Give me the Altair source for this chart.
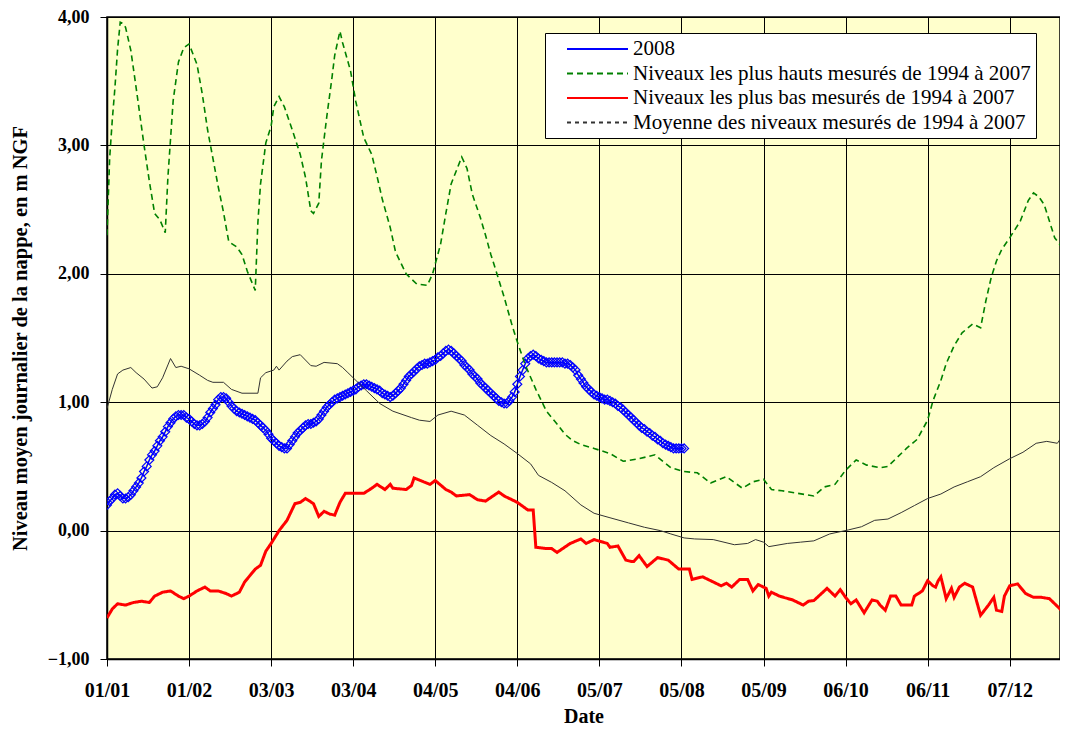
import json
import altair as alt
import pandas as pd

SERIES = [
    "2008",
    "Niveaux les plus hauts mesurés de 1994 à 2007",
    "Niveaux les plus bas mesurés de 1994 à 2007",
    "Moyenne des niveaux mesurés de 1994 à 2007",
]
COLORS = ["#0000FF", "#008000", "#FF0000", "#333333"]
DASHES = [[1, 0], [6, 4], [1, 0], [4, 4]]

TICK_DAYS = [0, 31, 62, 93, 124, 155, 186, 217, 248, 279, 310, 341]
TICK_LABELS = ["01/01", "01/02", "03/03", "03/04", "04/05", "04/06",
               "05/07", "05/08", "05/09", "06/10", "06/11", "07/12"]
Y_TICKS = [-1, 0, 1, 2, 3, 4]

# 2008 daily values (day 0 = 01/01)
V2008 = [
    0.20, 0.23, 0.25, 0.28, 0.29, 0.27, 0.25, 0.25, 0.26, 0.28,
    0.31, 0.34, 0.37, 0.41, 0.46, 0.50, 0.55, 0.59, 0.62, 0.66,
    0.70, 0.73, 0.77, 0.81, 0.84, 0.87, 0.89, 0.90, 0.90, 0.90,
    0.88, 0.87, 0.85, 0.83, 0.82, 0.82, 0.83, 0.85, 0.88, 0.92,
    0.95, 0.98, 1.02, 1.04, 1.04, 1.03, 1.00, 0.97, 0.95, 0.93,
    0.92, 0.91, 0.90, 0.89, 0.88, 0.87, 0.86, 0.84, 0.82, 0.80,
    0.78, 0.75, 0.72, 0.70, 0.68, 0.66, 0.65, 0.64, 0.64, 0.67,
    0.70, 0.73, 0.76, 0.78, 0.80, 0.82, 0.83, 0.83, 0.84, 0.85,
    0.87, 0.90, 0.93, 0.96, 0.98, 1.00, 1.02, 1.03, 1.04, 1.05,
    1.06, 1.07, 1.08, 1.09, 1.10, 1.12, 1.13, 1.14, 1.14, 1.13,
    1.12, 1.11, 1.10, 1.09, 1.07, 1.06, 1.05, 1.04, 1.05, 1.07,
    1.09, 1.11, 1.14, 1.17, 1.20, 1.22, 1.24, 1.26, 1.28, 1.29,
    1.30, 1.30, 1.31, 1.32, 1.33, 1.35, 1.36, 1.38, 1.40, 1.41,
    1.40, 1.38, 1.36, 1.34, 1.32, 1.29, 1.27, 1.25, 1.22, 1.20,
    1.18, 1.15, 1.13, 1.11, 1.09, 1.07, 1.05, 1.03, 1.01, 1.00,
    0.99, 0.99, 1.01, 1.04, 1.08, 1.14, 1.20, 1.25, 1.30, 1.34,
    1.36, 1.37, 1.36, 1.34, 1.33, 1.32, 1.31, 1.31, 1.31, 1.31,
    1.31, 1.31, 1.31, 1.30, 1.30, 1.29, 1.27, 1.25, 1.21, 1.18,
    1.15, 1.12, 1.10, 1.08, 1.06, 1.05, 1.04, 1.03, 1.02, 1.02,
    1.01, 1.00, 0.99, 0.97, 0.96, 0.94, 0.92, 0.90, 0.88, 0.86,
    0.84, 0.82, 0.80, 0.79, 0.77, 0.76, 0.74, 0.73, 0.71, 0.70,
    0.68, 0.67, 0.66, 0.65, 0.64, 0.64, 0.64, 0.64, 0.64,
]
DAYS_2008 = list(range(len(V2008)))

HAUTS_DAYS = [0, 1, 2, 3, 4, 5, 6, 7, 9, 11, 13, 14, 16, 18, 20, 22, 23, 24, 25, 27,
              29, 31, 34, 36, 38, 40, 42, 44, 46, 49, 51, 53, 56, 57, 58, 60, 62, 63, 65, 67,
              70, 73, 75, 77, 78, 80, 81, 83, 85, 86, 88, 89, 92, 94, 97, 100, 102, 104, 107, 109,
              113, 117, 121, 123, 126, 128, 130, 134, 136, 138, 141, 143, 145, 147, 150, 153, 155, 158, 162, 166,
              170, 173, 176, 179, 184, 190, 195, 201, 207, 213, 218, 223, 228, 234, 240, 244, 248, 251, 255, 261,
              267, 271, 275, 279, 283, 287, 292, 295, 298, 302, 306, 310, 312, 315, 317, 320, 323, 327, 330, 332,
              334, 336, 338, 341, 345, 348, 350, 352, 354, 358, 361, 363]
HAUTS_VALUES = [2.30, 2.90, 3.20, 3.45, 3.75, 3.96, 3.95, 3.92, 3.74, 3.45, 3.15, 3.00, 2.72, 2.47, 2.42, 2.32, 2.75, 3.05, 3.35, 3.65,
                3.76, 3.79, 3.63, 3.40, 3.12, 2.90, 2.68, 2.48, 2.25, 2.21, 2.15, 2.02, 1.87, 2.40, 2.70, 3.02, 3.15, 3.30, 3.38, 3.30,
                3.12, 2.93, 2.75, 2.49, 2.47, 2.55, 2.88, 3.22, 3.53, 3.70, 3.89, 3.80, 3.58, 3.34, 3.06, 2.93, 2.76, 2.58, 2.36, 2.17,
                2.00, 1.92, 1.91, 2.00, 2.23, 2.47, 2.70, 2.91, 2.82, 2.62, 2.44, 2.30, 2.15, 2.02, 1.82, 1.60, 1.47, 1.29, 1.10, 0.93,
                0.83, 0.75, 0.70, 0.67, 0.64, 0.60, 0.54, 0.56, 0.59, 0.49, 0.46, 0.45, 0.37, 0.42, 0.33, 0.38, 0.40, 0.32, 0.31, 0.29,
                0.27, 0.34, 0.36, 0.47, 0.55, 0.51, 0.49, 0.50, 0.56, 0.64, 0.71, 0.86, 1.01, 1.17, 1.30, 1.44, 1.54, 1.61, 1.58, 1.79,
                1.97, 2.10, 2.19, 2.28, 2.41, 2.57, 2.63, 2.60, 2.54, 2.28, 2.20, 2.12]

BAS_DAYS = [0, 2, 4, 7, 10, 13, 16, 18, 21, 24, 27, 29, 31, 34, 37, 39, 42, 45, 47, 50,
            52, 54, 56, 58, 60, 62, 65, 68, 71, 73, 75, 78, 80, 82, 84, 86, 88, 90, 97, 100,
            102, 105, 107, 108, 113, 115, 116, 122, 124, 128, 130, 132, 137, 140, 143, 148, 150, 155, 159, 161,
            162, 166, 168, 170, 175, 179, 181, 184, 189, 190, 193, 196, 198, 199, 201, 204, 208, 212, 216, 220,
            221, 225, 229, 232, 234, 236, 239, 242, 244, 246, 249, 250, 251, 254, 259, 263, 265, 267, 272, 275,
            277, 279, 281, 283, 286, 289, 291, 292, 294, 296, 298, 300, 304, 305, 308, 310, 312, 313, 314, 315,
            317, 319, 320, 322, 324, 327, 330, 333, 335, 336, 338, 339, 341, 344, 347, 350, 353, 356, 359, 362, 363]
BAS_VALUES = [-0.68, -0.61, -0.57, -0.58, -0.56, -0.55, -0.56, -0.51, -0.48, -0.47, -0.51, -0.53, -0.51, -0.47, -0.44, -0.47, -0.47, -0.49, -0.51, -0.48,
              -0.40, -0.35, -0.30, -0.27, -0.16, -0.10, 0.00, 0.08, 0.21, 0.22, 0.25, 0.21, 0.11, 0.15, 0.13, 0.12, 0.22, 0.29, 0.29, 0.33,
              0.36, 0.32, 0.36, 0.33, 0.32, 0.35, 0.41, 0.36, 0.39, 0.32, 0.30, 0.27, 0.28, 0.24, 0.23, 0.30, 0.27, 0.22, 0.16, 0.16,
              -0.13, -0.14, -0.14, -0.17, -0.10, -0.065, -0.10, -0.07, -0.10, -0.13, -0.12, -0.23, -0.24, -0.24, -0.195, -0.28, -0.21, -0.23, -0.30, -0.30,
              -0.38, -0.36, -0.40, -0.43, -0.41, -0.44, -0.38, -0.38, -0.47, -0.42, -0.45, -0.51, -0.48, -0.51, -0.54, -0.58, -0.55, -0.545, -0.45, -0.51,
              -0.46, -0.52, -0.57, -0.54, -0.64, -0.54, -0.55, -0.58, -0.62, -0.51, -0.51, -0.58, -0.58, -0.51, -0.47, -0.39, -0.43, -0.44, -0.39, -0.36,
              -0.53, -0.45, -0.52, -0.44, -0.41, -0.44, -0.66, -0.58, -0.52, -0.62, -0.63, -0.51, -0.43, -0.415, -0.49, -0.52, -0.52, -0.53, -0.59, -0.65, -0.60]

MOY_DAYS = [0, 2, 4, 6, 9, 11, 14, 17, 19, 21, 23, 24, 26, 28, 31, 35, 38, 40, 44, 47,
            51, 57, 58, 60, 63, 64, 65, 68, 70, 73, 77, 79, 82, 87, 89, 91, 93, 98, 103, 108,
            115, 118, 122, 125, 130, 135, 140, 145, 150, 155, 160, 163, 168, 173, 179, 184, 190, 197, 203, 209,
            213, 218, 222, 229, 237, 242, 245, 248, 250, 257, 262, 267, 273, 280, 285, 290, 295, 300, 305, 310,
            315, 320, 325, 330, 335, 341, 346, 351, 355, 359, 361, 363]
MOY_VALUES = [0.95, 1.10, 1.22, 1.25, 1.27, 1.23, 1.18, 1.11, 1.12, 1.19, 1.29, 1.34, 1.27, 1.28, 1.26, 1.21, 1.17, 1.155, 1.155, 1.10,
              1.07, 1.07, 1.19, 1.23, 1.25, 1.28, 1.25, 1.32, 1.355, 1.37, 1.285, 1.28, 1.31, 1.30, 1.27, 1.23, 1.19, 1.09, 0.99, 0.93,
              0.88, 0.86, 0.85, 0.90, 0.93, 0.90, 0.82, 0.74, 0.675, 0.60, 0.52, 0.43, 0.375, 0.31, 0.20, 0.135, 0.10, 0.06, 0.026, 0.00,
              -0.026, -0.057, -0.065, -0.07, -0.11, -0.10, -0.07, -0.09, -0.125, -0.10, -0.09, -0.08, -0.026, 0.005, 0.03, 0.08, 0.09, 0.14, 0.195, 0.25,
              0.285, 0.34, 0.38, 0.42, 0.49, 0.56, 0.61, 0.68, 0.695, 0.68, 0.74, 0.80]

FONT = "Liberation Serif"


def frame(days, values, name):
    return pd.DataFrame({"jour": days, "niveau": values, "serie": [name] * len(days)})


df_2008 = frame(DAYS_2008, V2008, SERIES[0])
df_hauts = frame(HAUTS_DAYS, HAUTS_VALUES, SERIES[1])
df_bas = frame(BAS_DAYS, BAS_VALUES, SERIES[2])
df_moy = frame(MOY_DAYS, MOY_VALUES, SERIES[3])

labels_js = json.dumps(TICK_LABELS)

x_enc = alt.X(
    "jour:Q",
    scale=alt.Scale(domain=[0, 360], nice=False, zero=False),
    axis=alt.Axis(
        values=TICK_DAYS,
        labelExpr=f"{labels_js}[round(datum.value / 31)]",
        labelFlush=False,
        labelOverlap=False,
        title="Date",
        titleY=57,
        titleBaseline="middle",
        titleFontSize=20,
        labelPadding=14,
        labelBaseline="top",
        labelFontSize=20,
        tickSize=7,
    ),
)
y_enc = alt.Y(
    "niveau:Q",
    scale=alt.Scale(domain=[-1, 4], nice=False, zero=False),
    axis=alt.Axis(
        values=Y_TICKS,
        labelExpr="replace(format(datum.value, '.2f'), '.', ',')",
        labelFlush=False,
        labelOverlap=False,
        labelFontSize=18,
        title="Niveau moyen journalier de la nappe, en m NGF",
        titleX=-87,
        titleY=321,
        titleAngle=270,
        titleAlign="center",
        titleBaseline="middle",
        titleFontSize=20.5,
        labelPadding=11,
        tickSize=7,
    ),
)

legend = alt.Legend(
    title=None,
    orient="none",
    legendX=438,
    legendY=16,
    direction="vertical",
    fillColor="white",
    strokeColor="black",
    padding=5,
    cornerRadius=0,
    symbolType="M0.6,0L6.7,0",
    symbolSize=400,
    symbolStrokeWidth=2,
    labelFont=FONT,
    labelFontSize=21,
    labelFontWeight="normal",
    labelColor="black",
    labelOffset=61,
    labelLimit=0,
    rowPadding=3.5,
)

color_enc = alt.Color("serie:N", scale=alt.Scale(domain=SERIES, range=COLORS), legend=legend)
dash_enc = alt.StrokeDash("serie:N", scale=alt.Scale(domain=SERIES, range=DASHES), legend=legend)

line_2008 = alt.Chart(df_2008).mark_line(strokeWidth=1.5, clip=True).encode(
    x=x_enc, y=y_enc, color=color_enc, strokeDash=dash_enc
)
points_2008 = alt.Chart(df_2008).mark_point(
    shape="diamond", size=80, filled=False, color="#0000FF", strokeWidth=1.2, opacity=1, clip=True
).encode(x=x_enc, y=y_enc)
line_hauts = alt.Chart(df_hauts).mark_line(strokeWidth=1.6, clip=True).encode(
    x=x_enc, y=y_enc, color=color_enc, strokeDash=dash_enc
)
line_bas = alt.Chart(df_bas).mark_line(strokeWidth=3, clip=True).encode(
    x=x_enc, y=y_enc, color=color_enc, strokeDash=dash_enc
)
line_moy = alt.Chart(df_moy).mark_line(strokeWidth=1, clip=True).encode(
    x=x_enc, y=y_enc, color=color_enc
)

chart = (
    alt.layer(line_2008, points_2008, line_hauts, line_bas, line_moy)
    .properties(
        width=953,
        height=642,
        autosize=alt.AutoSizeParams(type="none"),
        padding={"left": 99, "top": 9, "right": 0, "bottom": 68},
        background="white",
    )
    .configure_view(fill="#FFFFCC", stroke="#000000", strokeWidth=1.5)
    .configure_axis(
        domainColor="#000000",
        domainWidth=1.5,
        tickColor="#000000",
        tickWidth=1,
        grid=True,
        gridColor="#000000",
        gridWidth=1,
        gridOpacity=1,
        labelFont=FONT,
        labelFontWeight="bold",
        labelColor="#000000",
        titleFont=FONT,
        titleFontWeight="bold",
        titleColor="#000000",
    )
)

chart.save("out.html", embed_options={"renderer": "svg", "actions": False})
